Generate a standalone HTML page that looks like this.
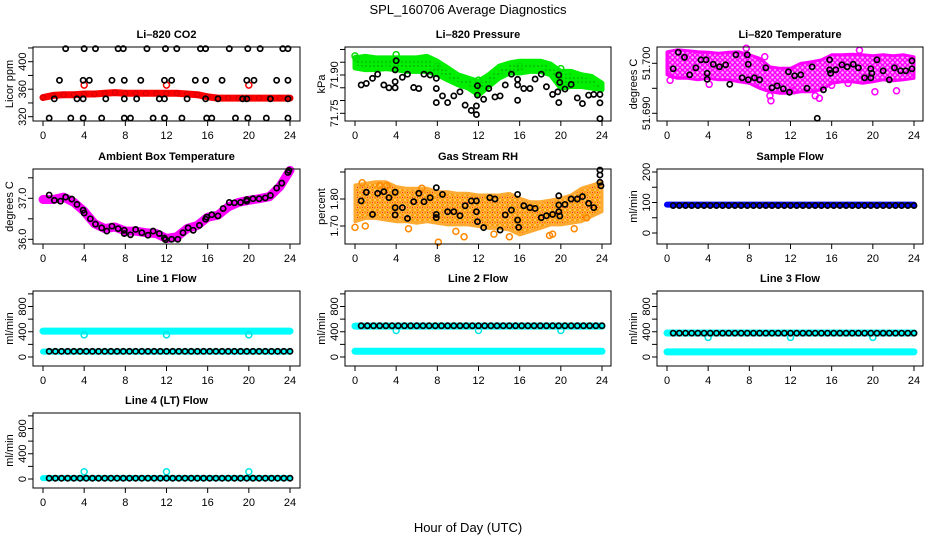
<!DOCTYPE html>
<html><head><meta charset="utf-8"><title>SPL_160706 Average Diagnostics</title>
<style>
html,body{margin:0;padding:0;background:#fff;}
svg{display:block;font-family:"Liberation Sans",Arial,sans-serif;}
</style></head>
<body>
<svg id="chart" width="936" height="540" viewBox="0 0 936 540" xmlns="http://www.w3.org/2000/svg">
<defs>
<pattern id="pat-mag" width="5" height="5" patternUnits="userSpaceOnUse"><rect width="5" height="5" fill="#ffb3ff"/><circle cx="2.5" cy="2.5" r="2" fill="none" stroke="#ff00ff" stroke-width="1.4"/></pattern>
<pattern id="pat-org" width="5" height="5" patternUnits="userSpaceOnUse"><rect width="5" height="5" fill="#ffd280"/><circle cx="2.5" cy="2.5" r="2" fill="none" stroke="#ff9900" stroke-width="1.3"/><circle cx="2.5" cy="2.5" r="0.7" fill="#ff2200"/></pattern>
<pattern id="pat-grn" width="4" height="4" patternUnits="userSpaceOnUse"><rect width="4" height="4" fill="#00ee00"/><circle cx="2" cy="2" r="0.6" fill="#006600"/></pattern>
</defs>
<rect x="0" y="0" width="936" height="540" fill="#fff"/>
<text x="468" y="14" font-size="13" text-anchor="middle">SPL_160706  Average Diagnostics</text>
<text x="468" y="532" font-size="13" text-anchor="middle">Hour of Day (UTC)</text>
</svg>
<script>
// ---------- shared categories ----------
const hours = [0,1,2,3,4,5,6,7,8,9,10,11,12,13,14,15,16,17,18,19,20,21,22,23,24];
const xTicks = [0,4,8,12,16,20,24];
const xTickLabels = ['0','4','8','12','16','20','24'];
const flowT = [0.6,1.2,1.8,2.4,3.0,3.6,4.2,4.8,5.4,6.0,6.6,7.2,7.8,8.4,9.0,9.6,10.2,10.8,11.4,12.0,12.6,13.2,13.8,14.4,15.0,15.6,16.2,16.8,17.4,18.0,18.6,19.2,19.8,20.4,21.0,21.6,22.2,22.8,23.4,24.0];
const dipT = [4,12,20];

// ---------- Li-820 CO2 ----------
const co2Ticks = [320,340,360,380,400,420];
const co2TickLabels = ['320','','360','','400',''];
const co2Red = [348,351,352,352,353,353,354,355,354,354,354,354,354,354,353,352,349,347,347,347,347,347,347,347,347];
const co2RedOut = [366,366,366];
const co2BlackT = [2.2,4,5.1,7.3,7.8,10.1,11.9,13,15.3,15.8,18.1,19.9,21.1,23.3,23.8,
 1.6,3.9,4.5,6.7,7.9,9.5,11.8,12.5,14.8,15.8,17.4,19.8,20.5,22.7,23.8,
 1.1,3.3,3.9,6.1,7.9,9.1,11.3,11.8,14.0,15.8,17.0,19.4,19.8,22.1,23.8,
 0.6,2.7,3.9,5.7,7.9,8.5,10.7,11.8,13.5,15.9,16.4,18.7,19.9,21.7,23.8];
const co2BlackV = [419,419,419,419,419,419,419,419,419,419,419,419,419,419,419,
 373,373,373,373,373,373,373,373,373,373,373,373,373,373,373,
 346,346,346,346,346,346,346,346,346,346,346,346,346,346,346,
 318,318,318,318,318,318,318,318,318,318,318,318,318,318,318];

// ---------- Li-820 Pressure ----------
const presTicks = [71.75,71.80,71.85,71.90,71.95,72.00];
const presTickLabels = ['71.75','','','71.90','',''];
const presHi = [71.967,71.973,71.967,71.967,71.967,71.967,71.967,71.973,71.954,71.928,71.901,71.888,71.875,71.901,71.934,71.947,71.954,71.954,71.954,71.943,71.914,71.914,71.901,71.894,71.868];
const presLo = [71.928,71.921,71.921,71.925,71.921,71.914,71.914,71.914,71.901,71.881,71.862,71.849,71.822,71.855,71.888,71.908,71.908,71.914,71.914,71.901,71.849,71.855,71.855,71.849,71.842];
const presGreenOutT = [0,0.1,4,8,12,16,20];
const presGreenOutV = [71.975,71.965,71.98,71.935,71.88,71.935,71.925];
const presBlackT = [0.6,1.1,1.7,2.2,2.8,3.3,3.9,3.9,3.9,4.0,4.6,5.1,5.7,6.2,6.7,7.3,7.9,7.9,7.9,8.5,9.0,9.6,10.2,10.7,11.3,11.8,11.8,11.9,11.9,12.5,13.0,13.6,14.1,14.6,15.2,15.8,15.8,15.8,16.4,17.0,17.5,18.1,18.6,19.2,19.7,19.8,19.8,19.9,20.4,21.0,21.6,22.1,22.7,23.2,23.8,23.8,23.8];
const presBlackV = [71.861,71.867,71.887,71.903,71.861,71.850,71.850,71.874,71.920,71.956,71.891,71.903,71.851,71.847,71.903,71.900,71.887,71.847,71.792,71.818,71.792,71.818,71.834,71.782,71.761,71.745,71.779,71.858,71.821,71.805,71.847,71.814,71.818,71.861,71.903,71.883,71.861,71.801,71.847,71.847,71.884,71.903,71.854,71.824,71.834,71.792,71.900,71.871,71.845,71.863,71.810,71.788,71.821,71.824,71.824,71.791,71.729];

// ---------- Li-820 Temperature ----------
const tempTicks = [51.690,51.695,51.700];
const tempTickLabels = ['51.690','','51.700'];
const tempHi = [51.7023,51.7027,51.7025,51.7023,51.7022,51.7020,51.7022,51.7023,51.7017,51.7010,51.6993,51.6990,51.6990,51.7000,51.7003,51.7007,51.7017,51.7017,51.7018,51.7017,51.7015,51.7017,51.7015,51.7017,51.7013];
const tempLo = [51.6977,51.6970,51.6970,51.6967,51.6970,51.6967,51.6967,51.6963,51.6960,51.6950,51.6943,51.6940,51.6940,51.6943,51.6943,51.6947,51.6960,51.6963,51.6963,51.6960,51.6963,51.6967,51.6965,51.6967,51.6970];
const tempMagOutT = [0.3,7.7,10.0,10.1,12.3,14.4,14.8,16.0,17.6,18.7,20.2,22.3,4.1,9.5];
const tempMagOutV = [51.6966,51.7030,51.6935,51.6925,51.6945,51.6935,51.6930,51.6956,51.6960,51.7026,51.6943,51.6945,51.6958,51.7013];
const tempBlackT = [0.6,1.1,1.7,2.2,2.8,3.3,3.8,3.9,3.9,4.5,5.1,5.7,6.1,6.7,7.3,7.8,7.9,7.9,8.5,9.0,9.6,10.2,10.7,11.3,11.8,11.9,12.4,13.0,13.6,14.1,14.6,15.2,15.8,15.8,15.9,16.4,17.0,17.5,18.1,18.6,19.2,19.8,19.8,19.9,20.4,21.0,21.6,22.1,22.7,23.2,23.8,23.8];
const tempBlackV = [51.6989,51.7022,51.7012,51.6977,51.6991,51.7007,51.7007,51.6968,51.6980,51.6998,51.6993,51.6997,51.6958,51.7017,51.6971,51.7017,51.6998,51.6967,51.6971,51.6967,51.6991,51.6951,51.6955,51.6949,51.6983,51.6942,51.6975,51.6977,51.6950,51.6993,51.6890,51.6947,51.7007,51.6987,51.6980,51.6987,51.6997,51.6993,51.6998,51.6991,51.6971,51.6989,51.6971,51.6980,51.7007,51.6985,51.6967,51.6991,51.6985,51.6985,51.7005,51.6989];

// ---------- Ambient Box Temperature ----------
const ambTicks = [36.0,36.5,37.0,37.5];
const ambTickLabels = ['36.0','','37.0',''];
const ambMag = [36.97,36.97,37.03,36.90,36.68,36.38,36.26,36.30,36.20,36.20,36.16,36.14,36.02,36.06,36.26,36.34,36.54,36.59,36.79,36.90,36.95,36.99,37.04,37.28,37.68];
const ambBlackT = [0.6,1.1,1.7,2.2,2.8,3.3,3.9,4.0,4.6,5.1,5.7,6.2,6.7,7.3,7.9,7.9,8.5,9.0,9.6,10.2,10.7,11.3,11.8,11.9,12.5,13.1,13.6,14.1,14.6,15.2,15.8,15.9,16.4,17.0,17.5,18.1,18.6,19.2,19.8,19.8,20.4,21.0,21.6,22.1,22.7,23.2,23.8,23.9];
const ambBlackV = [37.08,36.95,36.93,37.03,36.98,36.85,36.71,36.64,36.50,36.37,36.28,36.20,36.32,36.26,36.22,36.14,36.11,36.24,36.16,36.10,36.20,36.14,36.03,35.99,36.00,36.00,36.16,36.28,36.22,36.34,36.49,36.54,36.60,36.57,36.75,36.90,36.89,36.90,36.97,36.93,36.99,36.99,37.01,37.07,37.25,37.37,37.63,37.68];

// ---------- Gas Stream RH ----------
const rhTicks = [1.70,1.80,1.90];
const rhTickLabels = ['1.70','1.80',''];
const rhHi = [1.852,1.858,1.864,1.864,1.846,1.840,1.840,1.840,1.827,1.827,1.821,1.821,1.815,1.815,1.815,1.821,1.803,1.790,1.790,1.796,1.803,1.815,1.840,1.852,1.864];
const rhLo = [1.716,1.728,1.728,1.722,1.716,1.716,1.710,1.716,1.710,1.704,1.704,1.704,1.698,1.691,1.691,1.685,1.667,1.679,1.691,1.704,1.704,1.710,1.716,1.735,1.753];
const rhOutT = [0,0.7,2.4,6.5,8.1,10.6,13.5,18.9,19.2,22.5,5.2,1.0,3.1,9.8,15.0,21.3];
const rhOutV = [1.695,1.86,1.85,1.84,1.64,1.66,1.67,1.665,1.67,1.73,1.69,1.70,1.85,1.68,1.66,1.69];
const rhBlackT = [0.6,1.1,1.7,2.2,2.8,3.3,3.9,3.9,3.9,4.6,5.1,5.7,6.2,6.7,7.3,7.9,7.9,7.9,8.5,9.0,9.6,10.2,10.7,11.3,11.8,11.8,11.9,12.5,13.1,13.6,14.1,14.6,15.2,15.8,15.8,15.9,16.4,17.0,17.5,18.1,18.6,19.2,19.8,19.8,19.8,19.9,20.4,21.0,21.6,22.1,22.7,23.2,23.8,23.8,23.8,23.9];
const rhBlackV = [1.793,1.825,1.743,1.821,1.827,1.805,1.825,1.768,1.741,1.768,1.728,1.790,1.821,1.790,1.805,1.842,1.743,1.731,1.817,1.753,1.753,1.738,1.775,1.793,1.793,1.753,1.716,1.694,1.805,1.800,1.685,1.741,1.759,1.817,1.722,1.695,1.775,1.768,1.765,1.731,1.738,1.743,1.812,1.778,1.753,1.737,1.780,1.800,1.800,1.809,1.784,1.768,1.907,1.889,1.862,1.849];

// ---------- Sample Flow ----------
const sampTicks = [0,50,100,150,200];
const sampTickLabels = ['0','','100','','200'];
const sampBlue = [93,93,93,93,93,93,93,93,93,93,93,93,93,93,93,93,93,93,93,93,93,93,93,93,93];
const sampBlack = [90,90,90,90,90,90,90,90,90,90,90,90,90,90,90,90,90,90,90,90,90,90,90,90,90,90,90,90,90,90,90,90,90,90,90,90,90,90,90,90];

// ---------- Line flows ----------
const flowTicks = [0,200,400,600,800,1000];
const flowTickLabels = ['0','','400','','800',''];
const line1CyanHi = [410,410,410,410,410,410,410,410,410,410,410,410,410,410,410,410,410,410,410,410,410,410,410,410,410];
const line1CyanLo = [85,85,85,85,85,85,85,85,85,85,85,85,85,85,85,85,85,85,85,85,85,85,85,85,85];
const line1Dip = [350,350,350];
const line1Black = [90,90,90,90,90,90,90,90,90,90,90,90,90,90,90,90,90,90,90,90,90,90,90,90,90,90,90,90,90,90,90,90,90,90,90,90,90,90,90,90];
const line2CyanHi = [490,490,490,490,490,490,490,490,490,490,490,490,490,490,490,490,490,490,490,490,490,490,490,490,490];
const line2CyanLo = [90,90,90,90,90,90,90,90,90,90,90,90,90,90,90,90,90,90,90,90,90,90,90,90,90];
const line2Dip = [420,420,420];
const line2Black = [495,495,495,495,495,495,495,495,495,495,495,495,495,495,495,495,495,495,495,495,495,495,495,495,495,495,495,495,495,495,495,495,495,495,495,495,495,495,495,495];
const line3CyanHi = [380,380,380,380,380,380,380,380,380,380,380,380,380,380,380,380,380,380,380,380,380,380,380,380,380];
const line3CyanLo = [80,80,80,80,80,80,80,80,80,80,80,80,80,80,80,80,80,80,80,80,80,80,80,80,80];
const line3Dip = [310,310,310];
const line3Black = [378,378,378,378,378,378,378,378,378,378,378,378,378,378,378,378,378,378,378,378,378,378,378,378,378,378,378,378,378,378,378,378,378,378,378,378,378,378,378,378];
const line4Cyan = [15,15,15,15,15,15,15,15,15,15,15,15,15,15,15,15,15,15,15,15,15,15,15,15,15];
const line4Dip = [115,115,115];
const line4Black = [12,12,12,12,12,12,12,12,12,12,12,12,12,12,12,12,12,12,12,12,12,12,12,12,12,12,12,12,12,12,12,12,12,12,12,12,12,12,12,12];

// ---------- layout ----------
const NS = 'http://www.w3.org/2000/svg';
const svg = document.getElementById('chart');
const COL_X0 = [43,355,667], COL_L = [33,345,657], COL_R = [300,611,923];
const ROW_T = [47,169,291,413], ROW_B = [121,244,366,488];

function el(tag, attrs, parent){
  const e = document.createElementNS(NS, tag);
  for (const k in attrs) e.setAttribute(k, attrs[k]);
  (parent||svg).appendChild(e);
  return e;
}

function makePanel(key, title, col, row, ylab, v0, p0, v1, p1, ticks, tickLabels){
  const g = el('g', {});
  
  
  const L = COL_L[col], R = COL_R[col], T = ROW_T[row], B = ROW_B[row];
  const x = t => COL_X0[col] + t * 247/24;
  const y = v => p0 + (v - v0) * (p1 - p0) / (v1 - v0);
  const tt = el('text', {x:(L+R)/2, y:T-9, 'font-size':11, 'font-weight':'bold', 'text-anchor':'middle'}, g);
  tt.textContent = title;
  
  
  const yl = el('text', {x:0, y:0, 'font-size':11, 'text-anchor':'middle', transform:'translate('+(L-20)+','+((T+B)/2)+') rotate(-90)'}, g);
  yl.textContent = ylab;
  
  
  const data = el('g', {}, g);
  
  
  const ya = el('g', {}, g);
  
  
  ticks.forEach((v, i) => {
    const py = y(v);
    if (py < T - 1 || py > B + 1) return;
    const tk = el('line', {x1:L-5, x2:L, y1:py, y2:py, stroke:'#000', 'stroke-width':1}, ya);
    
    
    if (tickLabels[i]) {
      const lb = el('text', {x:0, y:0, 'font-size':11, 'text-anchor':'middle', transform:'translate('+(L-7)+','+py+') rotate(-90)'}, ya);
      lb.textContent = tickLabels[i];
      
      
    }
  });
  const xa = el('g', {}, g);
  
  
  xTicks.forEach((t, i) => {
    const tk = el('line', {x1:x(t), x2:x(t), y1:B, y2:B+5, stroke:'#000', 'stroke-width':1}, xa);
    
    
    const lb = el('text', {x:x(t), y:B+18, 'font-size':11, 'text-anchor':'middle'}, xa);
    lb.textContent = xTickLabels[i];
    
    
  });
  const bx = el('rect', {x:L, y:T, width:R-L, height:B-T, fill:'none', stroke:'#000', 'stroke-width':1}, g);
  
  
  return {x, y, g:data, key};
}

function pts(P, ts, vs, color, r, sw, name){
  ts.forEach((t, i) => {
    const c = el('circle', {cx:P.x(t), cy:P.y(vs[i]), r:r, fill:'none', stroke:color, 'stroke-width':sw}, P.g);
    
    
  });
}
function thick(P, ts, vs, color, w, name){
  const d = ts.map((t, i) => (i ? 'L' : 'M') + P.x(t).toFixed(1) + ' ' + P.y(vs[i]).toFixed(1)).join(' ');
  const p = el('path', {d:d, fill:'none', stroke:color, 'stroke-width':w, 'stroke-linecap':'round', 'stroke-linejoin':'round'}, P.g);
  
  
}
function band(P, ts, hi, lo, fill, edge, sw, name){
  const up = ts.map((t, i) => P.x(t).toFixed(1) + ',' + P.y(hi[i]).toFixed(1));
  const dn = ts.map((t, i) => P.x(t).toFixed(1) + ',' + P.y(lo[i]).toFixed(1)).reverse();
  const p = el('polygon', {points:up.concat(dn).join(' '), fill:fill, stroke:edge, 'stroke-width':sw, 'stroke-linejoin':'round'}, P.g);
  
  
}

// ---------- panels ----------
const pCO2 = makePanel('co2', 'Li\u2013820 CO2', 0, 0, 'Licor ppm', 320, 116.7, 400, 61.7, co2Ticks, co2TickLabels);
thick(pCO2, hours, co2Red, '#ff0000', 7, 'co2-series-band');
pts(pCO2, hours, co2Red, '#cc0000', 2.5, 1, 'co2-point');
pts(pCO2, dipT, co2RedOut, '#ff0000', 3, 1.5, 'co2-outlier');
pts(pCO2, co2BlackT, co2BlackV, '#000', 2.6, 1.7, 'co2-hourly-point');

const pPres = makePanel('pressure', 'Li\u2013820 Pressure', 1, 0, 'kPa', 71.75, 113.3, 71.90, 75, presTicks, presTickLabels);
band(pPres, hours, presHi, presLo, 'url(#pat-grn)', '#00ee00', 5, 'pressure-series-band');
pts(pPres, presGreenOutT, presGreenOutV, '#00dd00', 3, 1.5, 'pressure-outlier');
pts(pPres, presBlackT, presBlackV, '#000', 2.6, 1.7, 'pressure-hourly-point');

const pTemp = makePanel('temperature', 'Li\u2013820 Temperature', 2, 0, 'degrees C', 51.690, 113.3, 51.700, 63.3, tempTicks, tempTickLabels);
band(pTemp, hours, tempHi, tempLo, 'url(#pat-mag)', '#ff00ff', 3, 'temperature-series-band');
pts(pTemp, tempMagOutT, tempMagOutV, '#ff00ff', 3, 1.5, 'temperature-outlier');
pts(pTemp, tempBlackT, tempBlackV, '#000', 2.6, 1.7, 'temperature-hourly-point');

const pAmb = makePanel('ambient', 'Ambient Box Temperature', 0, 1, 'degrees C', 36.0, 239.3, 37.0, 198.3, ambTicks, ambTickLabels);
thick(pAmb, hours, ambMag, '#ff00ff', 9, 'ambient-series-band');
pts(pAmb, ambBlackT, ambBlackV, '#000', 2.6, 1.7, 'ambient-hourly-point');

const pRH = makePanel('rh', 'Gas Stream RH', 1, 1, 'percent', 1.70, 226, 1.80, 199, rhTicks, rhTickLabels);
band(pRH, hours, rhHi, rhLo, 'url(#pat-org)', '#ffaa33', 3, 'rh-series-band');
pts(pRH, rhOutT, rhOutV, '#ff8800', 3, 1.5, 'rh-outlier');
pts(pRH, rhBlackT, rhBlackV, '#000', 2.6, 1.7, 'rh-hourly-point');

const pSamp = makePanel('sample-flow', 'Sample Flow', 2, 1, 'ml/min', 0, 233, 200, 172, sampTicks, sampTickLabels);
thick(pSamp, hours, sampBlue, '#0000ff', 6, 'sample-flow-series');
pts(pSamp, flowT, sampBlack, '#000', 2.6, 1.7, 'sample-flow-point');

const pL1 = makePanel('line1', 'Line 1 Flow', 0, 2, 'ml/min', 0, 357, 800, 306.5, flowTicks, flowTickLabels);
thick(pL1, hours, line1CyanHi, '#00ffff', 7, 'line1-flow-series');
thick(pL1, hours, line1CyanLo, '#00ffff', 6, 'line1-return-series');
pts(pL1, dipT, line1Dip, '#00e5e5', 3, 1.5, 'line1-dip');
pts(pL1, flowT, line1Black, '#000', 2.6, 1.7, 'line1-point');

const pL2 = makePanel('line2', 'Line 2 Flow', 1, 2, 'ml/min', 0, 357, 800, 306.5, flowTicks, flowTickLabels);
thick(pL2, hours, line2CyanHi, '#00ffff', 7, 'line2-flow-series');
thick(pL2, hours, line2CyanLo, '#00ffff', 7, 'line2-return-series');
pts(pL2, dipT, line2Dip, '#00e5e5', 3, 1.5, 'line2-dip');
pts(pL2, flowT, line2Black, '#000', 2.6, 1.7, 'line2-point');

const pL3 = makePanel('line3', 'Line 3 Flow', 2, 2, 'ml/min', 0, 357, 800, 306.5, flowTicks, flowTickLabels);
thick(pL3, hours, line3CyanHi, '#00ffff', 7, 'line3-flow-series');
thick(pL3, hours, line3CyanLo, '#00ffff', 7, 'line3-return-series');
pts(pL3, dipT, line3Dip, '#00e5e5', 3, 1.5, 'line3-dip');
pts(pL3, flowT, line3Black, '#000', 2.6, 1.7, 'line3-point');

const pL4 = makePanel('line4', 'Line 4 (LT) Flow', 0, 3, 'ml/min', 0, 479, 800, 428.5, flowTicks, flowTickLabels);
thick(pL4, hours, line4Cyan, '#00ffff', 6, 'line4-flow-series');
pts(pL4, dipT, line4Dip, '#00e5e5', 3, 1.5, 'line4-dip');
pts(pL4, flowT, line4Black, '#000', 2.6, 1.7, 'line4-point');
</script>
</body></html>
